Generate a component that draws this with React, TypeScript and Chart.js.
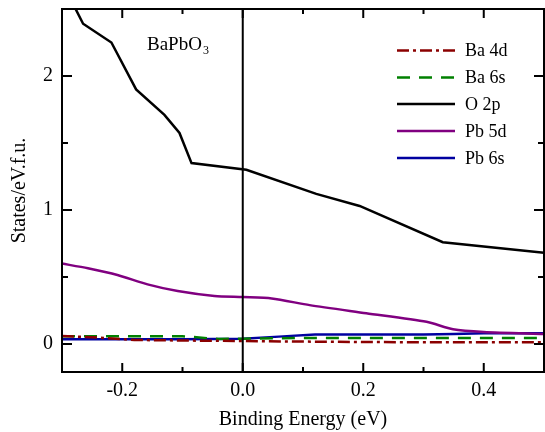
import React, { useEffect, useRef } from "react";
import { Chart, registerables } from "chart.js";

Chart.register(...registerables);

// Partial density of states of BaPbO3 near the Fermi level
const ba4dEnergy = [-0.3, -0.25, -0.18, -0.1, 0.0, 0.1, 0.2, 0.3, 0.4, 0.5];
const ba4dStates = [0.06, 0.05, 0.03, 0.026, 0.022, 0.018, 0.015, 0.013, 0.013, 0.013];

const ba6sEnergy = [-0.3, -0.2, -0.1, -0.04, 0.0, 0.1, 0.2, 0.3, 0.4, 0.5];
const ba6sStates = [0.058, 0.058, 0.058, 0.037, 0.04, 0.045, 0.045, 0.045, 0.045, 0.045];

const o2pEnergy = [-0.3, -0.265, -0.218, -0.177, -0.13, -0.105, -0.085, 0.006, 0.122, 0.194, 0.332, 0.5];
const o2pStates = [2.7, 2.39, 2.25, 1.9, 1.71, 1.575, 1.35, 1.3, 1.12, 1.03, 0.76, 0.68];

const pb5dEnergy = [-0.3, -0.257, -0.208, -0.158, -0.108, -0.047, 0.0, 0.048, 0.111, 0.205, 0.305, 0.349, 0.4, 0.5];
const pb5dStates = [0.6, 0.565, 0.515, 0.445, 0.395, 0.358, 0.35, 0.34, 0.29, 0.23, 0.166, 0.11, 0.09, 0.075];

const pb6sEnergy = [-0.3, -0.2, -0.1, 0.0, 0.06, 0.12, 0.2, 0.3, 0.35, 0.4, 0.5];
const pb6sStates = [0.035, 0.035, 0.035, 0.04, 0.055, 0.07, 0.07, 0.07, 0.075, 0.08, 0.08];

const xMajorTicks = [-0.2, 0.0, 0.2, 0.4];
const xMinorTicks = [-0.1, 0.1, 0.3];
const yMajorTicks = [0, 1, 2];
const yMinorTicks = [0.5, 1.5];

const SERIF = "'Liberation Serif', 'Times New Roman', serif";

const toPoints = (xs: number[], ys: number[]) => xs.map((x, i) => ({ x, y: ys[i] }));

const seriesList = [
  { label: "Ba 4d", xs: ba4dEnergy, ys: ba4dStates, color: "#8b0000", dash: [12, 4, 3, 4] },
  { label: "Ba 6s", xs: ba6sEnergy, ys: ba6sStates, color: "#008000", dash: [13, 9] },
  { label: "O 2p", xs: o2pEnergy, ys: o2pStates, color: "#000000", dash: [] as number[] },
  { label: "Pb 5d", xs: pb5dEnergy, ys: pb5dStates, color: "#800080", dash: [] as number[] },
  { label: "Pb 6s", xs: pb6sEnergy, ys: pb6sStates, color: "#0000a0", dash: [] as number[] },
];

// Frame, inward ticks on all four sides, and the Fermi-level line
const framePlugin = {
  id: "frame",
  afterDatasetsDraw(chart: any) {
    const { ctx, chartArea } = chart;
    const { left, right, top, bottom } = chartArea;
    const xs = chart.scales.x;
    const ys = chart.scales.y;
    ctx.save();
    ctx.strokeStyle = "#000";
    ctx.lineWidth = 2;
    // zero energy line
    const x0 = xs.getPixelForValue(0);
    ctx.beginPath();
    ctx.moveTo(x0, top);
    ctx.lineTo(x0, bottom);
    ctx.stroke();
    // frame
    ctx.strokeRect(left, top, right - left, bottom - top);
    const tick = (vals: number[], len: number) => {
      vals.forEach((v) => {
        const px = xs.getPixelForValue(v);
        ctx.beginPath();
        ctx.moveTo(px, bottom);
        ctx.lineTo(px, bottom - len);
        ctx.moveTo(px, top);
        ctx.lineTo(px, top + len);
        ctx.stroke();
      });
    };
    const ytick = (vals: number[], len: number) => {
      vals.forEach((v) => {
        const py = ys.getPixelForValue(v);
        ctx.beginPath();
        ctx.moveTo(left, py);
        ctx.lineTo(left + len, py);
        ctx.moveTo(right, py);
        ctx.lineTo(right - len, py);
        ctx.stroke();
      });
    };
    tick(xMajorTicks, 9);
    tick(xMinorTicks, 5);
    ytick(yMajorTicks, 10);
    ytick(yMinorTicks, 6);
    ctx.restore();
  },
  afterDraw(chart: any) {
    const { ctx } = chart;
    ctx.save();
    // legend
    const lx0 = 397;
    const lx1 = 455;
    const rowY = [50.5, 77.5, 104, 131, 158];
    ctx.font = `18px ${SERIF}`;
    ctx.textBaseline = "middle";
    ctx.fillStyle = "#000";
    seriesList.forEach((s, i) => {
      ctx.strokeStyle = s.color;
      ctx.lineWidth = 2.5;
      ctx.setLineDash(s.dash);
      ctx.beginPath();
      ctx.moveTo(lx0, rowY[i]);
      ctx.lineTo(lx1, rowY[i]);
      ctx.stroke();
      ctx.setLineDash([]);
      ctx.fillText(s.label, 465, rowY[i] + 1);
    });
    // compound label
    ctx.font = `19px ${SERIF}`;
    ctx.textBaseline = "alphabetic";
    ctx.fillText("BaPbO", 147, 50);
    const w = ctx.measureText("BaPbO").width;
    ctx.font = `12px ${SERIF}`;
    ctx.fillText("3", 147 + w + 1, 54);
    ctx.restore();
  },
};

export default function App() {
  const canvasRef = useRef<HTMLCanvasElement | null>(null);

  useEffect(() => {
    if (!canvasRef.current) return;
    const chart = new Chart(canvasRef.current, {
      type: "line",
      data: {
        datasets: seriesList.map((s) => ({
          label: s.label,
          data: toPoints(s.xs, s.ys),
          borderColor: s.color,
          backgroundColor: s.color,
          borderWidth: 2.5,
          borderDash: s.dash,
          pointRadius: 0,
          tension: s.label === "Pb 5d" ? 0.25 : 0,
          fill: false,
        })),
      },
      options: {
        responsive: false,
        animation: false,
        devicePixelRatio: 1,
        layout: { padding: { top: 9, right: 1, left: 0, bottom: 0 } },
        plugins: {
          legend: { display: false },
          tooltip: { enabled: false },
        },
        scales: {
          x: {
            type: "linear",
            min: -0.3,
            max: 0.5,
            grid: { display: false, drawTicks: false },
            border: { display: false },
            afterBuildTicks: (scale: any) => {
              scale.ticks = xMajorTicks.map((v) => ({ value: v }));
            },
            afterFit: (scale: any) => {
              scale.height = 60;
              scale.paddingLeft = 0;
              scale.paddingRight = 0;
            },
            ticks: {
              padding: 7,
              color: "#000",
              font: { family: SERIF, size: 20 },
              maxRotation: 0,
              callback: (v: any) => Number(v).toFixed(1),
            },
            title: {
              display: true,
              text: "Binding Energy (eV)",
              color: "#000",
              font: { family: SERIF, size: 20 },
              padding: { top: 0, bottom: 0 },
            },
          },
          y: {
            type: "linear",
            min: -0.209,
            max: 2.5,
            grid: { display: false, drawTicks: false },
            border: { display: false },
            afterBuildTicks: (scale: any) => {
              scale.ticks = yMajorTicks.map((v) => ({ value: v }));
            },
            afterFit: (scale: any) => {
              scale.width = 62;
              scale.paddingTop = 0;
              scale.paddingBottom = 0;
            },
            ticks: {
              padding: 9,
              color: "#000",
              font: { family: SERIF, size: 20 },
              callback: (v: any) => String(v),
            },
            title: {
              display: true,
              text: "States/eV.f.u.",
              color: "#000",
              font: { family: SERIF, size: 20 },
              padding: { top: 8, bottom: 0 },
            },
          },
        },
      },
      plugins: [framePlugin],
    });
    return () => chart.destroy();
  }, []);

  return (
    <div style={{ position: "fixed", left: 0, top: 0, width: 545, height: 432, background: "#fff" }}>
      <canvas ref={canvasRef} width={545} height={432} />
    </div>
  );
}
